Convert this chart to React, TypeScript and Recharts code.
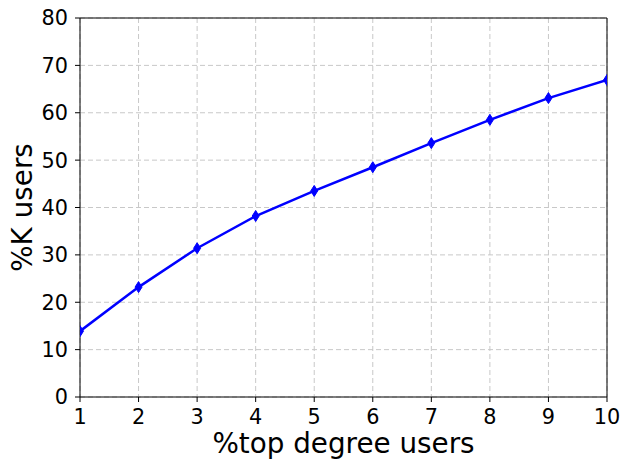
import React from 'react';
import { LineChart, Line, XAxis, YAxis, CartesianGrid, ReferenceLine, Label } from 'recharts';

const topDegree = [1, 2, 3, 4, 5, 6, 7, 8, 9, 10];
const kUsers = [13.9, 23.2, 31.4, 38.2, 43.5, 48.5, 53.6, 58.5, 63.1, 66.9];
const xTicks = [1, 2, 3, 4, 5, 6, 7, 8, 9, 10];
const yTicks = [0, 10, 20, 30, 40, 50, 60, 70, 80];

const data = topDegree.map((x, i) => ({ x, k: kUsers[i] }));

const FONT = '"DejaVu Sans", sans-serif';

// thin diamond marker like matplotlib's 'd'
const Diamond = (props: any) => {
  const { cx, cy, index } = props;
  if (cx == null || cy == null) return null;
  return (
    <path
      key={`d-${index}`}
      d={`M${cx},${cy - 5.5} L${cx + 3.5},${cy} L${cx},${cy + 5.5} L${cx - 3.5},${cy} Z`}
      fill="#0000ff"
      stroke="#0000ff"
      strokeWidth={1}
    />
  );
};

const YLabel = (props: any) => {
  const { viewBox } = props;
  const cy = viewBox.y + viewBox.height / 2;
  return (
    <text
      x={22}
      y={cy}
      transform={`rotate(-90, 22, ${cy})`}
      textAnchor="middle"
      dominantBaseline="central"
      fontSize={27.8}
      fontFamily={FONT}
      fill="#000"
    >
      %K users
    </text>
  );
};

export default function App() {
  return (
    <div style={{ position: 'absolute', left: 0, top: 0, background: '#fff' }}>
      <LineChart
        width={629}
        height={470}
        data={data}
        margin={{ top: 18, right: 22, bottom: 0, left: 0 }}
      >
        <CartesianGrid stroke="#c8c8c8" strokeDasharray="5 3" />
        <XAxis
          dataKey="x"
          type="number"
          domain={[1, 10]}
          ticks={xTicks}
          height={73}
          stroke="#000"
          tickSize={5}
          tickMargin={7}
          tick={{ fill: '#000', fontSize: 20.8, fontFamily: FONT }}
          allowDataOverflow
        >
          <Label
            value="%top degree users"
            position="insideBottom"
            offset={17}
            fontSize={27.8}
            fontFamily={FONT}
            fill="#000"
          />
        </XAxis>
        <YAxis
          type="number"
          domain={[0, 80]}
          ticks={yTicks}
          width={80}
          stroke="#000"
          tickSize={5}
          tickMargin={7}
          tick={{ fill: '#000', fontSize: 20.8, fontFamily: FONT }}
          allowDataOverflow
        >
          <Label content={<YLabel />} />
        </YAxis>
        <ReferenceLine y={80} stroke="#000" strokeWidth={1} />
        <ReferenceLine x={10} stroke="#000" strokeWidth={1} />
        <Line
          dataKey="k"
          stroke="#0000ff"
          strokeWidth={2.5}
          dot={<Diamond />}
          activeDot={false}
          isAnimationActive={false}
        />
      </LineChart>
    </div>
  );
}
